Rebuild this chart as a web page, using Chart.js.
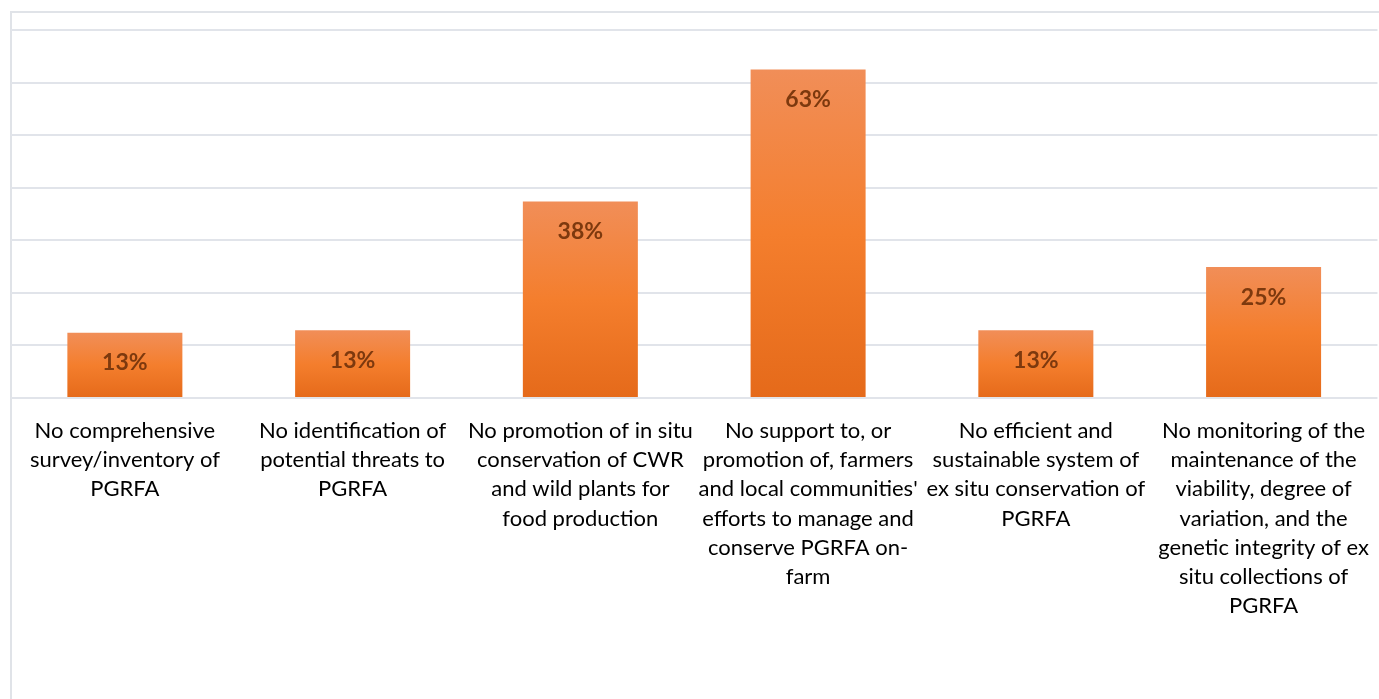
<!DOCTYPE html>
<html>
<head>
<meta charset="utf-8">
<script src="https://cdn.jsdelivr.net/npm/chart.js@4/dist/chart.umd.min.js"></script>
<style>
  html, body { margin: 0; padding: 0; background: #fff; }
  #wrap { position: relative; width: 1379px; height: 699px; }
  #frame {
    position: absolute; left: 10px; top: 11px; right: 0; bottom: 0;
    border-left: 2px solid #e0e3e8; border-top: 2px solid #e0e3e8;
  }
  canvas { position: absolute; left: 0; top: 0; }
</style>
</head>
<body>
<div id="wrap">
  <div id="frame"></div>
  <canvas id="chart" width="1379" height="699"></canvas>
</div>
<script>
/* ======================
   DATA
====================== */
const categories = [
  ["No comprehensive", "survey/inventory of", "PGRFA"],
  ["No identification of", "potential threats to", "PGRFA"],
  ["No promotion of in situ", "conservation of CWR", "and wild plants for", "food production"],
  ["No support to, or", "promotion of, farmers", "and local communities'", "efforts to manage and", "conserve PGRFA on-", "farm"],
  ["No efficient and", "sustainable system of", "ex situ conservation of", "PGRFA"],
  ["No monitoring of the", "maintenance of the", "viability, degree of", "variation, and the", "genetic integrity of ex", "situ collections of", "PGRFA"]
];
const values = [12.4, 12.9, 37.4, 62.5, 12.9, 24.9];
const valueLabels = ["13%", "13%", "38%", "63%", "13%", "25%"];
const yMin = 0;
const yMax = 70;
const yStep = 10;

/* ======================
   BAR GRADIENT (per bar)
====================== */
function barFill(ctx) {
  const chart = ctx.chart;
  const y = chart.scales && chart.scales.y;
  if (!chart.chartArea || !y || ctx.raw == null) return "#f47f2e";
  const top = y.getPixelForValue(ctx.raw);
  const bottom = y.getPixelForValue(0);
  const g = chart.ctx.createLinearGradient(0, top, 0, bottom);
  g.addColorStop(0, "#f18e58");
  g.addColorStop(0.5, "#f47e2d");
  g.addColorStop(1, "#e56a1a");
  return g;
}

/* ======================
   VALUE LABELS INSIDE BARS
====================== */
const insideLabels = {
  id: "insideLabels",
  afterDatasetsDraw(chart) {
    const c = chart.ctx;
    const meta = chart.getDatasetMeta(0);
    c.save();
    c.font = "bold 23px Lato";
    c.fillStyle = "#7d390e";
    c.textAlign = "center";
    c.textBaseline = "middle";
    meta.data.forEach((bar, i) => {
      c.fillText(valueLabels[i], bar.x, bar.y + 30);
    });
    c.restore();
  }
};

new Chart(document.getElementById("chart"), {
  type: "bar",
  data: {
    labels: categories,
    datasets: [{
      data: values,
      backgroundColor: barFill,
      borderWidth: 0,
      categoryPercentage: 1,
      barPercentage: 0.505
    }]
  },
  options: {
    responsive: false,
    animation: false,
    devicePixelRatio: 1,
    layout: { padding: { left: 11, right: 0, top: 30, bottom: 0 } },
    plugins: {
      legend: { display: false },
      tooltip: { enabled: false }
    },
    scales: {
      x: {
        grid: { display: false },
        border: { display: false },
        ticks: {
          color: "#000",
          font: { family: "Lato", size: 22, lineHeight: 1.33 },
          maxRotation: 0,
          minRotation: 0,
          autoSkip: false,
          padding: 10
        },
        afterFit(s) { s.height = 301; }
      },
      y: {
        min: yMin,
        max: yMax,
        ticks: { display: false, stepSize: yStep },
        grid: { color: "#e1e4ea", lineWidth: 2, drawTicks: false },
        border: { display: false },
        afterFit(s) { s.width = 0; }
      }
    }
  },
  plugins: [insideLabels]
});
</script>
</body>
</html>
